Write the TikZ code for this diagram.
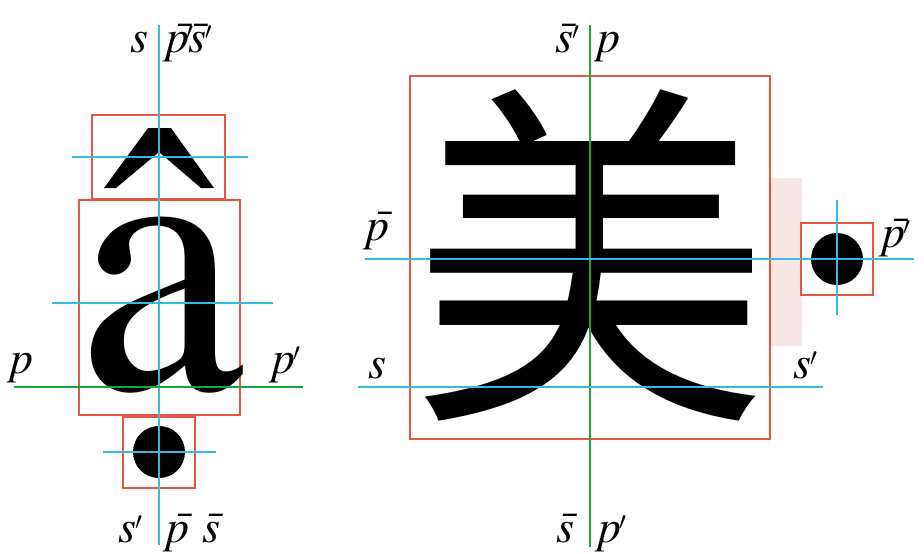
\documentclass[tikz,border=0pt]{standalone}
\usepackage{fontspec}
\setmainfont{TeX Gyre Termes}
\newfontfamily\cjk{Noto Sans CJK SC}
\definecolor{boxred}{HTML}{E8553F}
\definecolor{guidecyan}{HTML}{33BBE6}
\definecolor{guidegreen}{HTML}{11AA33}
\definecolor{pinkfill}{HTML}{F6E7E4}
\newcommand\pr{\raisebox{13pt}{$\prime$}}
\tikzset{
  redbox/.style={draw=boxred,line width=1.4pt},
  cyanline/.style={draw=guidecyan,line width=1.3pt},
  greenline/.style={draw=guidegreen,line width=1.3pt},
  lbl/.style={inner sep=0pt,anchor=base,font=\fontsize{46}{46}\selectfont\itshape},
  lblw/.style={lbl,anchor=base west},
}
\begin{document}
\begin{tikzpicture}[x=1pt,y=-1pt]
\useasboundingbox (0,0) rectangle (924,554);
% ---------- left figure ----------
\node[redbox,minimum width=133pt,minimum height=84pt,inner sep=0pt] (accbox) at (158.5,157) {};
\node[redbox,minimum width=161pt,minimum height=215pt,inner sep=0pt] (abox) at (159.5,307.5) {};
\node[redbox,minimum width=72pt,minimum height=71pt,inner sep=0pt] (dotbox) at (159,452.5) {};
% glyphs
\fill (104,188) -- (148,128) -- (171,128) -- (214,188) -- (201,188) -- (159,152) -- (116,188) -- cycle;
\node[inner sep=0pt,anchor=base,font=\fontsize{375}{375}\selectfont] (aglyph) at (161,389) {a};
\fill (159,452) circle (26);
% guides
\coordinate (lvt) at (159,25); \coordinate (lvb) at (159,545);
\draw[cyanline] (lvt) -- (lvb);
\coordinate (ah1) at (72,157); \coordinate (ah2) at (248,157);
\draw[cyanline] (ah1) -- (ah2);
\coordinate (am1) at (52,303); \coordinate (am2) at (273,303);
\draw[cyanline] (am1) -- (am2);
\coordinate (dh1) at (103,452); \coordinate (dh2) at (216,452);
\draw[cyanline] (dh1) -- (dh2);
\coordinate (bl1) at (14,387); \coordinate (bl2) at (303,387);
\draw[greenline] (bl1) -- (bl2);
% labels
\node[lblw] (ls) at (130,52) {s};
\node[lblw] (lps) at (166,52) {\={p}\kern-3pt\pr\kern-5pt\={s}\kern-1pt\pr};
\node[lblw] (lsp) at (118,542) {s\kern-1pt\pr};
\node[lblw] (lpb) at (166,542) {\={p}};
\node[lblw] (lsb) at (202,542) {\={s}};
\node[lblw] (lp) at (10,373) {p};
\node[lblw] (lpp) at (272,373) {p\kern-2pt\pr};
% ---------- right figure ----------
\fill[pinkfill] (771,178) rectangle (802,346);
\node[redbox,minimum width=360pt,minimum height=363pt,inner sep=0pt] (bigbox) at (590,257.5) {};
\node[redbox,minimum width=72pt,minimum height=72pt,inner sep=0pt] (rdotbox) at (837,259) {};
\node[inner sep=0pt,anchor=base,font=\fontsize{360}{360}\selectfont\cjk] (mei) at (590,393) {美};
\fill (837,259) circle (26);
\coordinate (rvt) at (590,25); \coordinate (rvb) at (590,547);
\draw[greenline] (rvt) -- (rvb);
\coordinate (rh1) at (365,259); \coordinate (rh2) at (914,259);
\draw[cyanline] (rh1) -- (rh2);
\coordinate (rs1) at (358,387); \coordinate (rs2) at (823,387);
\draw[cyanline] (rs1) -- (rs2);
\coordinate (rdv1) at (837,200); \coordinate (rdv2) at (837,315);
\draw[cyanline] (rdv1) -- (rdv2);
\node[lblw] (rsbp) at (555,52) {\={s}\kern-1pt\pr};
\node[lblw] (rp) at (597,52) {p};
\node[lblw] (rpb) at (366,240) {\={p}};
\node[lblw] (rpbp) at (882,247) {\={p}\kern-2pt\pr};
\node[lblw] (rs) at (368,378) {s};
\node[lblw] (rsp) at (793,378) {s\kern-1pt\pr};
\node[lblw] (rsb) at (556,542) {\={s}};
\node[lblw] (rpp) at (598,542) {p\kern-2pt\pr};
\end{tikzpicture}
\end{document}
